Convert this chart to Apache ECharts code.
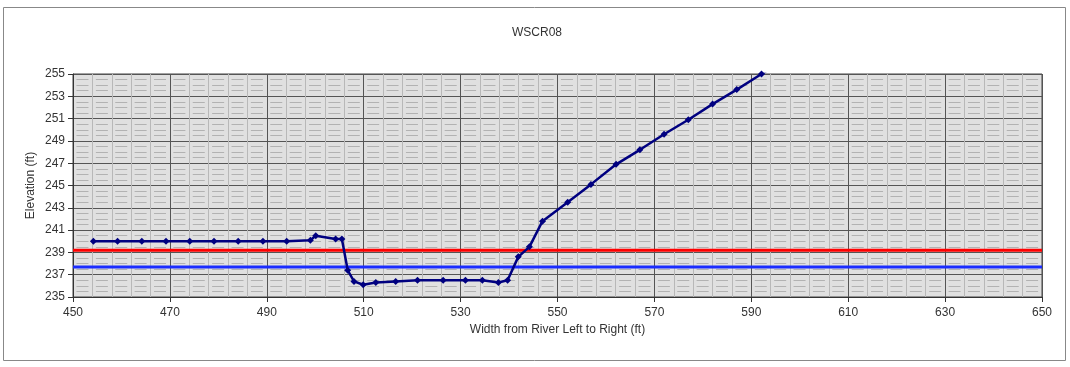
<!DOCTYPE html>
<html><head><meta charset="utf-8">
<script src="https://cdn.jsdelivr.net/npm/echarts@6/dist/echarts.min.js"></script>
<style>html,body{margin:0;padding:0;background:#fff}#c{width:1070px;height:367px}</style>
</head><body><div id="c"></div>
<script>
const title = 'WSCR08';
const xName = 'Width from River Left to Right (ft)';
const yName = 'Elevation (ft)';
const profileX = [454.2,459.2,464.2,469.2,474.1,479.1,484.1,489.2,494.1,499.0,500.1,504.2,505.5,506.7,508.0,509.9,512.5,516.6,521.1,526.4,531.0,534.5,537.8,539.7,541.9,544.2,546.9,552.1,556.9,562.1,567.0,572.0,577.0,582.0,587.0,592.1,597.0];
const profileY = [240.0,240.0,240.0,240.0,240.0,240.0,240.0,240.0,240.0,240.1,240.5,240.2,240.2,237.4,236.4,236.1,236.3,236.4,236.5,236.5,236.5,236.5,236.3,236.5,238.6,239.5,241.8,243.5,245.1,246.9,248.2,249.6,250.9,252.3,253.6,255.0,256.3];
const redLineX = [450, 650];
const redLineY = [239.2, 239.2];
const blueLineX = [450, 650];
const blueLineY = [237.7, 237.7];
const xMin = 450, xMax = 650, xStep = 20;
const yMin = 235, yMax = 255, yStep = 2;

const zip = (a, b) => a.map((v, i) => [v, b[i]]);
const chart = echarts.init(document.getElementById('c'), null, {renderer: 'canvas'});
const font = 'Liberation Sans, Arial, sans-serif';
chart.setOption({
  animation: false,
  backgroundColor: '#fff',
  title: {text: title, left: 532, top: 22, textAlign: 'center',
    textStyle: {fontFamily: font, fontSize: 12, fontWeight: 'normal', color: '#333'}},
  graphic: [{type: 'rect', shape: {x: 3.5, y: 7.5, width: 1062, height: 353},
    style: {fill: null, stroke: '#888', lineWidth: 1}, silent: true, z: -1}],
  grid: {left: 73, right: 28, top: 74, bottom: 70, show: true, backgroundColor: '#e0e0e0',
    borderColor: '#444', borderWidth: 1},
  xAxis: {type: 'value', min: xMin, max: xMax, interval: xStep,
    name: xName, nameLocation: 'middle', nameGap: 24,
    nameTextStyle: {fontFamily: font, fontSize: 12, color: '#333'},
    axisLine: {show: true, lineStyle: {color: '#333', width: 1}},
    axisTick: {show: true, length: 5, lineStyle: {color: '#333'}},
    axisLabel: {fontFamily: font, fontSize: 12, color: '#333', margin: 10},
    splitLine: {show: true, lineStyle: {color: '#555', width: 1}},
    minorTick: {show: false, splitNumber: 5},
    minorSplitLine: {show: true, lineStyle: {color: '#b8b8b8', width: 1}}
  },
  yAxis: {type: 'value', min: yMin, max: yMax, interval: yStep,
    name: yName, nameLocation: 'middle', nameGap: 36, nameMoveOverlap: false,
    nameTextStyle: {fontFamily: font, fontSize: 12, color: '#333'},
    axisLine: {show: true, lineStyle: {color: '#333', width: 1}},
    axisTick: {show: true, length: 5, lineStyle: {color: '#333'}},
    axisLabel: {fontFamily: font, fontSize: 12, color: '#333', margin: 8},
    splitLine: {show: true, lineStyle: {color: '#555', width: 1}},
    minorTick: {show: false, splitNumber: 4},
    minorSplitLine: {show: true, lineStyle: {color: '#b2b2b2', width: 1, type: [12, 7.38], dashOffset: 15.9}}
  },
  series: [
    {type: 'line', data: zip(redLineX, redLineY), symbol: 'none', lineStyle: {color: '#ff0000', width: 3}, silent: true, z: 3},
    {type: 'line', data: zip(blueLineX, blueLineY), symbol: 'none', lineStyle: {color: '#1a2cff', width: 3}, silent: true, z: 3},
    {type: 'line', data: zip(profileX, profileY), symbol: 'diamond', symbolSize: 7,
      itemStyle: {color: '#000080'}, lineStyle: {color: '#000080', width: 2.5}, clip: true, silent: true, z: 4}
  ]
});
</script></body></html>
